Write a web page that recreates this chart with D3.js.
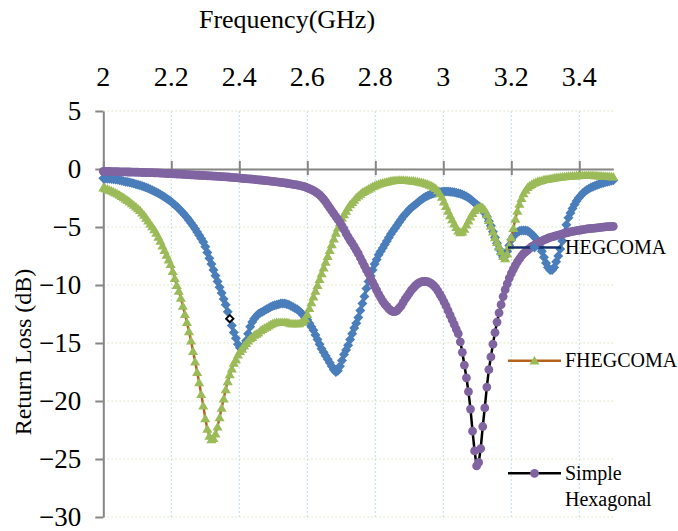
<!DOCTYPE html>
<html>
<head>
<meta charset="utf-8">
<script src="https://cdn.jsdelivr.net/npm/d3@7"></script>
<style>
  body { margin: 0; background: #fff; }
</style>
</head>
<body>
<svg id="chart" width="678" height="531"></svg>
<script>
// frequency sweep (GHz): 2.000 .. 3.500, one sample every 0.006
const freqStart = 2.0;
const freqStep = 0.006;

// return loss (dB), one row = 10 samples (0.06 GHz)
const hegcoma = [
  -0.80,-0.81,-0.83,-0.85,-0.87,-0.89,-0.91,-0.93,-0.96,-0.99,
  -1.05,-1.09,-1.13,-1.17,-1.21,-1.26,-1.31,-1.36,-1.41,-1.47,
  -1.53,-1.60,-1.67,-1.75,-1.83,-1.91,-2.00,-2.10,-2.20,-2.31,
  -2.42,-2.54,-2.66,-2.79,-2.93,-3.08,-3.24,-3.41,-3.59,-3.78,
  -3.98,-4.19,-4.41,-4.65,-4.90,-5.16,-5.43,-5.71,-6.00,-6.30,
  -6.70,-7.20,-7.70,-8.20,-8.70,-9.20,-9.70,-10.20,-10.70,-11.20,
  -11.70,-12.30,-12.90,-13.50,-14.10,-14.60,-15.10,-15.40,-15.50,-15.20,
  -14.80,-14.20,-13.60,-13.20,-12.90,-12.70,-12.50,-12.40,-12.30,-12.20,
  -12.10,-12.00,-11.90,-11.80,-11.75,-11.70,-11.65,-11.60,-11.60,-11.60,
  -11.65,-11.70,-11.80,-11.90,-12.00,-12.10,-12.25,-12.40,-12.60,-12.80,
  -13.00,-13.30,-13.60,-13.90,-14.30,-14.70,-15.10,-15.50,-15.80,-16.10,
  -16.40,-16.70,-17.00,-17.30,-17.50,-17.40,-17.00,-16.50,-16.00,-15.60,
  -15.20,-14.70,-14.20,-13.70,-13.30,-12.80,-12.20,-11.60,-11.00,-10.30,
  -9.70,-9.20,-8.70,-8.20,-7.80,-7.40,-7.10,-6.80,-6.50,-6.20,
  -5.90,-5.60,-5.35,-5.10,-4.85,-4.60,-4.35,-4.10,-3.90,-3.70,
  -3.50,-3.35,-3.20,-3.05,-2.90,-2.75,-2.62,-2.50,-2.40,-2.30,
  -2.22,-2.15,-2.10,-2.05,-2.01,-1.98,-1.96,-1.95,-1.95,-1.95,
  -1.96,-1.98,-2.00,-2.04,-2.08,-2.14,-2.20,-2.28,-2.37,-2.47,
  -2.60,-2.75,-2.90,-3.05,-3.20,-3.35,-3.55,-3.80,-4.10,-4.50,
  -4.90,-5.40,-5.90,-6.40,-6.90,-7.30,-7.60,-7.50,-7.10,-6.60,
  -6.10,-5.80,-5.60,-5.45,-5.35,-5.30,-5.30,-5.30,-5.35,-5.45,
  -5.60,-5.80,-6.00,-6.30,-6.70,-7.10,-7.60,-8.10,-8.50,-8.70,
  -8.70,-8.50,-8.00,-7.50,-6.90,-6.20,-5.50,-4.80,-4.20,-3.80,
  -3.40,-3.05,-2.75,-2.50,-2.30,-2.10,-1.95,-1.82,-1.70,-1.60,
  -1.52,-1.45,-1.38,-1.32,-1.26,-1.20,-1.15,-1.10,-1.06,-1.02,
  -0.98
];

const fhegcoma = [
  -1.60,-1.66,-1.72,-1.79,-1.86,-1.94,-2.03,-2.12,-2.22,-2.33,
  -2.45,-2.57,-2.69,-2.82,-2.96,-3.10,-3.25,-3.40,-3.55,-3.75,
  -3.95,-4.20,-4.45,-4.70,-4.95,-5.20,-5.50,-5.85,-6.20,-6.60,
  -7.00,-7.40,-7.80,-8.20,-8.80,-9.40,-10.00,-10.50,-11.10,-11.80,
  -12.50,-13.20,-14.00,-14.80,-15.70,-16.60,-17.50,-18.40,-19.40,-20.40,
  -21.50,-22.40,-23.00,-23.30,-23.20,-22.80,-22.20,-21.40,-20.60,-19.80,
  -19.00,-18.30,-17.70,-17.20,-16.70,-16.40,-16.00,-15.70,-15.50,-15.20,
  -15.00,-14.80,-14.60,-14.50,-14.30,-14.20,-14.10,-13.90,-13.80,-13.70,
  -13.60,-13.50,-13.40,-13.30,-13.25,-13.20,-13.20,-13.20,-13.20,-13.20,
  -13.20,-13.25,-13.30,-13.30,-13.30,-13.30,-13.30,-13.20,-13.10,-12.90,
  -12.50,-12.00,-11.50,-11.00,-10.50,-10.00,-9.50,-9.00,-8.50,-8.00,
  -7.50,-7.00,-6.50,-6.00,-5.50,-5.05,-4.60,-4.20,-3.90,-3.60,
  -3.30,-3.05,-2.85,-2.65,-2.45,-2.30,-2.15,-2.00,-1.90,-1.80,
  -1.70,-1.60,-1.50,-1.42,-1.35,-1.28,-1.22,-1.17,-1.12,-1.08,
  -1.04,-1.00,-0.98,-0.96,-0.95,-0.94,-0.94,-0.94,-0.95,-0.96,
  -0.97,-0.99,-1.01,-1.04,-1.07,-1.10,-1.14,-1.18,-1.23,-1.29,
  -1.36,-1.44,-1.53,-1.65,-1.85,-2.10,-2.40,-2.80,-3.20,-3.60,
  -4.00,-4.35,-4.70,-5.00,-5.30,-5.45,-5.40,-5.15,-4.80,-4.45,
  -4.10,-3.80,-3.55,-3.40,-3.30,-3.25,-3.30,-3.50,-3.90,-4.40,
  -4.90,-5.40,-5.90,-6.30,-6.70,-7.10,-7.50,-7.70,-7.30,-6.60,
  -5.90,-5.10,-4.30,-3.60,-3.00,-2.50,-2.10,-1.80,-1.55,-1.40,
  -1.30,-1.20,-1.12,-1.05,-1.00,-0.95,-0.90,-0.87,-0.84,-0.81,
  -0.78,-0.75,-0.72,-0.70,-0.68,-0.66,-0.64,-0.62,-0.60,-0.58,
  -0.57,-0.56,-0.55,-0.54,-0.53,-0.53,-0.52,-0.52,-0.52,-0.52,
  -0.53,-0.54,-0.55,-0.56,-0.57,-0.58,-0.59,-0.61,-0.62,-0.64,
  -0.65
];

const simpleHex = [
  -0.20,-0.20,-0.21,-0.21,-0.22,-0.22,-0.23,-0.23,-0.24,-0.24,
  -0.25,-0.25,-0.26,-0.26,-0.27,-0.27,-0.28,-0.28,-0.29,-0.30,
  -0.30,-0.31,-0.31,-0.32,-0.32,-0.33,-0.34,-0.34,-0.35,-0.36,
  -0.37,-0.38,-0.39,-0.40,-0.41,-0.42,-0.43,-0.44,-0.45,-0.46,
  -0.47,-0.48,-0.49,-0.50,-0.51,-0.52,-0.53,-0.54,-0.55,-0.56,
  -0.57,-0.58,-0.59,-0.60,-0.61,-0.62,-0.63,-0.64,-0.65,-0.66,
  -0.68,-0.69,-0.71,-0.72,-0.74,-0.75,-0.77,-0.78,-0.80,-0.82,
  -0.83,-0.85,-0.86,-0.88,-0.90,-0.92,-0.93,-0.95,-0.97,-0.99,
  -1.01,-1.03,-1.05,-1.07,-1.09,-1.11,-1.13,-1.15,-1.18,-1.20,
  -1.23,-1.26,-1.29,-1.32,-1.35,-1.38,-1.42,-1.46,-1.50,-1.55,
  -1.62,-1.69,-1.77,-1.86,-1.97,-2.09,-2.23,-2.40,-2.60,-2.83,
  -3.10,-3.35,-3.60,-3.85,-4.10,-4.35,-4.60,-4.90,-5.20,-5.55,
  -5.85,-6.15,-6.40,-6.70,-7.00,-7.30,-7.65,-8.00,-8.35,-8.70,
  -9.00,-9.40,-9.75,-10.10,-10.45,-10.80,-11.10,-11.40,-11.65,-11.85,
  -12.05,-12.20,-12.30,-12.30,-12.20,-12.00,-11.80,-11.50,-11.20,-10.95,
  -10.70,-10.45,-10.25,-10.05,-9.90,-9.80,-9.72,-9.70,-9.70,-9.72,
  -9.80,-9.90,-10.05,-10.25,-10.50,-10.80,-11.10,-11.45,-11.80,-12.20,
  -12.60,-13.00,-13.40,-13.80,-14.20,-14.90,-15.80,-16.90,-18.00,-19.20,
  -20.70,-22.60,-24.30,-25.60,-25.30,-24.10,-22.20,-20.60,-18.80,-17.30,
  -16.20,-15.10,-14.10,-13.20,-12.40,-11.70,-11.00,-10.40,-9.90,-9.40,
  -9.00,-8.65,-8.30,-8.00,-7.75,-7.50,-7.30,-7.15,-7.00,-6.85,
  -6.70,-6.60,-6.50,-6.40,-6.30,-6.20,-6.12,-6.05,-5.97,-5.90,
  -5.85,-5.80,-5.75,-5.70,-5.65,-5.60,-5.55,-5.50,-5.46,-5.42,
  -5.38,-5.35,-5.32,-5.29,-5.26,-5.23,-5.20,-5.17,-5.15,-5.13,
  -5.11,-5.09,-5.07,-5.05,-5.03,-5.01,-4.99,-4.97,-4.96,-4.95,
  -4.94
];

const seriesNames = ["HEGCOMA", "FHEGCOMA", "Simple Hexagonal"];
const xTicks = [2, 2.2, 2.4, 2.6, 2.8, 3, 3.2, 3.4];
const yTicks = [5, 0, -5, -10, -15, -20, -25, -30];
const markedFreq = 2.372; // the single black hollow marker on HEGCOMA

const freq = hegcoma.map((_, i) => +(freqStart + i * freqStep).toFixed(3));
const serif = "'Liberation Serif', 'Times New Roman', Times, serif";

const svg = d3.select("#chart").attr("font-family", serif);

// scales
const x = d3.scaleLinear().domain([2, 3.5]).range([103.3, 613.3]);
const y = d3.scaleLinear().domain([-30, 5]).range([517, 111]);

// gridlines
svg.append("g").selectAll("line")
  .data(yTicks)
  .join("line")
  .attr("x1", x(2)).attr("x2", x(3.5))
  .attr("y1", d => y(d)).attr("y2", d => y(d))
  .attr("stroke", "#dfe6c6").attr("stroke-width", 1).attr("stroke-dasharray", "2,2");

svg.append("g").selectAll("line")
  .data(xTicks.filter(d => d > 2))
  .join("line")
  .attr("x1", d => x(d)).attr("x2", d => x(d))
  .attr("y1", y(5)).attr("y2", y(-30))
  .attr("stroke", "#c2e0ea").attr("stroke-width", 1).attr("stroke-dasharray", "2,2");

// y axis
const yAxis = svg.append("g")
  .attr("transform", `translate(${x(2)},0)`)
  .call(d3.axisLeft(y).tickValues(yTicks).tickSize(8).tickSizeOuter(0).tickPadding(14).tickFormat(d3.format("d")));
yAxis.attr("font-family", serif).attr("font-size", 27);
yAxis.select(".domain").attr("stroke", "#868686").attr("stroke-width", 2);
yAxis.selectAll(".tick line").attr("stroke", "#868686").attr("stroke-width", 2);
yAxis.selectAll(".tick text")
  .style("font-family", serif)
  .attr("fill", "#000").attr("dy", "0.33em");

// x axis sits on 0 dB, labels up at the top
const xAxis = svg.append("g")
  .attr("transform", `translate(0,${y(0)})`)
  .call(d3.axisTop(x).tickValues(xTicks).tickSizeInner(8).tickSizeOuter(0).tickFormat(""));
xAxis.select(".domain").attr("stroke", "#868686").attr("stroke-width", 2);
xAxis.selectAll(".tick line").attr("stroke", "#868686").attr("stroke-width", 2).attr("y2", -8).attr("y1", 6);

svg.append("g").selectAll("text")
  .data(xTicks)
  .join("text")
  .attr("x", d => x(d))
  .attr("y", 86)
  .attr("text-anchor", "middle")
  .style("font-family", serif)
  .style("font-size", "28px")
  .text(d => d3.format("")(d));

// axis titles
svg.append("text")
  .attr("x", 287).attr("y", 28)
  .attr("text-anchor", "middle")
  .style("font-family", serif)
  .style("font-size", "26px")
  .text("Frequency(GHz)");

svg.append("text")
  .attr("transform", "translate(31,352) rotate(-90)")
  .attr("text-anchor", "middle")
  .style("font-family", serif)
  .style("font-size", "24px")
  .text("Return Loss (dB)");

// marker shapes
const diamond = r => `M0,${-r}L${r},0L0,${r}L${-r},0Z`;
const triangle = r => `M0,${-r}L${r * 1.1},${r * 0.85}L${-r * 1.1},${r * 0.85}Z`;

const series = [
  { name: seriesNames[0], values: hegcoma, line: "#14306b", fill: "#4a7ebb", shape: "diamond" },
  { name: seriesNames[1], values: fhegcoma, line: "#b5621e", fill: "#9bbb59", shape: "triangle" },
  { name: seriesNames[2], values: simpleHex, line: "#000000", fill: "#8064a2", shape: "circle" }
];

const lineGen = d3.line().x(d => x(d[0])).y(d => y(d[1]));

function drawMarkers(g, pts, s) {
  if (s.shape === "circle") {
    g.selectAll("circle").data(pts).join("circle")
      .attr("cx", d => x(d[0])).attr("cy", d => y(d[1]))
      .attr("r", 4.4).attr("fill", s.fill);
  } else {
    const path = s.shape === "diamond" ? diamond(5) : triangle(4.6);
    g.selectAll("path.m").data(pts).join("path")
      .attr("class", "m")
      .attr("d", path)
      .attr("transform", d => `translate(${x(d[0])},${y(d[1])})`)
      .attr("fill", s.fill);
  }
}

series.forEach(s => {
  const pts = freq.map((f, i) => [f, s.values[i]]);
  const g = svg.append("g");
  g.append("path")
    .attr("d", lineGen(pts))
    .attr("fill", "none")
    .attr("stroke", s.line)
    .attr("stroke-width", 2.5);
  drawMarkers(g.append("g"), pts, s);
});

// hollow black marker on HEGCOMA
const mi = freq.indexOf(markedFreq);
svg.append("path")
  .attr("d", diamond(3.6))
  .attr("transform", `translate(${x(freq[mi])},${y(hegcoma[mi])})`)
  .attr("fill", "#fff").attr("stroke", "#000").attr("stroke-width", 1.8);

// legend, placed inside the plot on the right
const legendRows = [
  { s: series[0], cy: 247.5, lines: ["HEGCOMA"] },
  { s: series[1], cy: 360.7, lines: ["FHEGCOMA"] },
  { s: series[2], cy: 473.3, lines: ["Simple", "Hexagonal"] }
];

const legend = svg.append("g");
legendRows.forEach(r => {
  const g = legend.append("g");
  g.append("line")
    .attr("x1", 508).attr("x2", 561)
    .attr("y1", r.cy).attr("y2", r.cy)
    .attr("stroke", r.s.line).attr("stroke-width", 2.5);
  drawMarkers(g.append("g").attr("transform", `translate(${534.5 - x(2.5)},${r.cy - y(0)})`), [[2.5, 0]], r.s);
  g.selectAll("text").data(r.lines).join("text")
    .attr("x", 565)
    .attr("y", (d, i) => r.cy + 6.5 + i * 26.5)
    .style("font-family", serif)
    .style("font-size", "20px")
    .text(d => d);
});
</script>
</body>
</html>
